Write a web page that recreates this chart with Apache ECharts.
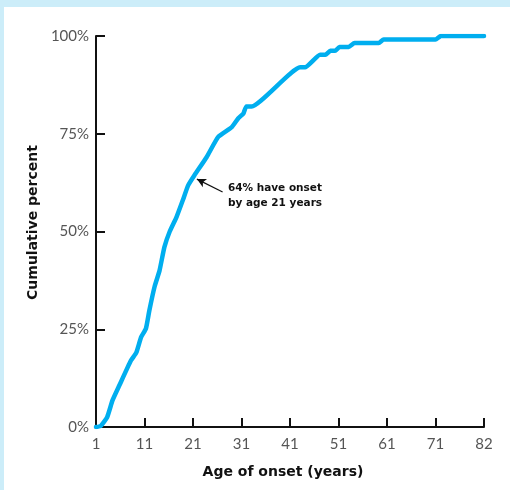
<!DOCTYPE html>
<html>
<head>
<meta charset="utf-8">
<script src="https://cdn.jsdelivr.net/npm/echarts@6/dist/echarts.min.js"></script>
<style>
html,body{margin:0;padding:0;background:#ccedf9;}
#wrap{position:absolute;left:4px;top:7px;width:506px;height:483px;background:#fff;}
#chart{position:absolute;left:0;top:0;width:510px;height:490px;}
</style>
</head>
<body>
<div id="wrap"></div>
<div id="chart"></div>
<script>
// Age of onset (years) and cumulative percent
const ages = [1, 2, 3.3, 4.4, 5.8, 8.2, 9.3, 10.3, 11.3, 12, 13.1, 14.1, 15.1, 16.2, 17.6, 18.9, 20, 21.3, 23.8, 26.2, 29, 30.3, 31.4, 32, 33.1, 43.1, 44.1, 47.2, 48.3, 49.3, 50.3, 51.2, 53.1, 54.3, 59.3, 60.3, 71, 72.2, 82];
const cumulativePercent = [0, 0.3, 2.5, 6.8, 10.6, 17, 19, 23, 25.2, 29.8, 36, 40, 46, 50, 53.7, 58, 61.8, 64.4, 69, 74.2, 76.7, 78.9, 80.2, 82, 82, 92, 92, 95.2, 95.2, 96.2, 96.2, 97.2, 97.2, 98.2, 98.2, 99.1, 99.1, 100, 100];
const xTickLabels = ['1', '11', '21', '31', '41', '51', '61', '71', '82'];
const yTickLabels = ['0%', '25%', '50%', '75%', '100%'];
const annotationText = ['64% have onset', 'by age 21 years'];
const annotationAge = 21;
const annotationPercent = 64;

// axis position: ticks evenly spaced, last interval 71..82 spans one step
function pos(age) { return age <= 71 ? age - 1 : 70 + (age - 71) * 10 / 11; }

const chart = echarts.init(document.getElementById('chart'), null, {renderer: 'canvas'});
const font = 'Lato, "Open Sans", sans-serif';
const boldFont = '"DejaVu Sans", sans-serif';
const lineData = ages.map((a, i) => [pos(a), cumulativePercent[i]]);

chart.setOption({
  backgroundColor: 'transparent',
  animation: false,
  grid: {left: 96, right: 26, top: 36, bottom: 63},
  xAxis: {
    type: 'value', min: 0, max: 80, interval: 10,
    name: 'Age of onset (years)', nameLocation: 'middle', nameGap: 38,
    nameTextStyle: {fontFamily: boldFont, fontWeight: 'bold', fontSize: 14, color: '#111', padding: [0, 14, 0, 0]},
    axisLine: {lineStyle: {color: '#111', width: 2}},
    axisTick: {inside: true, length: 9, lineStyle: {color: '#111', width: 2}},
    axisLabel: {fontFamily: font, fontSize: 15, color: '#555', margin: 10,
      formatter: v => xTickLabels[Math.round(v / 10)]},
    splitLine: {show: false}
  },
  yAxis: {
    type: 'value', min: 0, max: 100, interval: 25,
    name: 'Cumulative percent', nameLocation: 'middle', nameGap: 56, nameRotate: 90,
    nameTextStyle: {fontFamily: boldFont, fontWeight: 'bold', fontSize: 14, color: '#111', padding: [0, 0, 0, 18]},
    axisLine: {show: true, lineStyle: {color: '#111', width: 2}},
    axisTick: {show: true, inside: true, length: 9, lineStyle: {color: '#111', width: 2}},
    axisLabel: {fontFamily: font, fontSize: 15, color: '#555', margin: 7,
      formatter: v => yTickLabels[Math.round(v / 25)]},
    splitLine: {show: false}
  },
  series: [{
    type: 'line', data: lineData, showSymbol: false, smooth: 0.15,
    lineStyle: {color: '#00aeef', width: 4.5, cap: 'round', join: 'round'},
    z: 3,
    markLine: {
      silent: true, symbol: ['none', 'arrow'], symbolSize: [7, 9],
      label: {show: false},
      lineStyle: {color: '#111', width: 1.2, type: 'solid'},
      data: [[{coord: [pos(annotationAge + 6.1), annotationPercent - 3.9]}, {coord: [pos(annotationAge + 0.8), annotationPercent - 0.6]}]]
    },
    markPoint: {
      silent: true, symbol: 'circle', symbolSize: 0,
      data: [{coord: [pos(annotationAge + 7.2), annotationPercent - 4.9]}],
      label: {show: true, position: 'right', distance: 0, align: 'left',
        formatter: annotationText.join('\n'),
        fontFamily: boldFont, fontWeight: 'bold', fontSize: 10.5, lineHeight: 15, color: '#111'}
    }
  }]
});
</script>
</body>
</html>
